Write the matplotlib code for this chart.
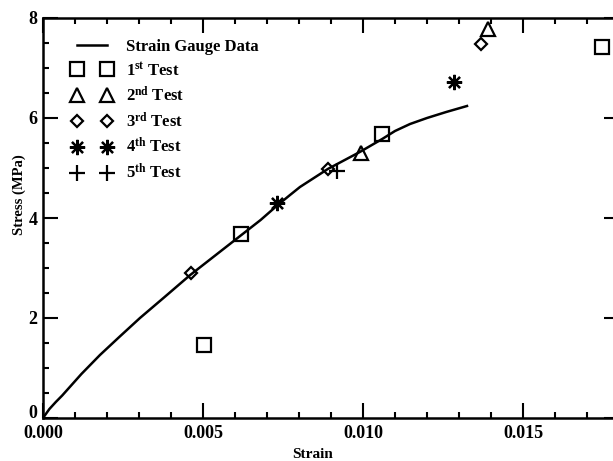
import matplotlib
matplotlib.use("Agg")
import matplotlib.pyplot as plt
from matplotlib.ticker import MultipleLocator

plt.rcParams['font.family'] = ['Liberation Serif', 'DejaVu Serif']
plt.rcParams['font.weight'] = 'bold'
plt.rcParams['mathtext.fontset'] = 'custom'
plt.rcParams['mathtext.rm'] = 'Liberation Serif:bold'
plt.rcParams['mathtext.it'] = 'Liberation Serif:bold'
plt.rcParams['mathtext.bf'] = 'Liberation Serif:bold'

# Strain gauge curve
gauge_strain = [0.0, 0.0002, 0.0004, 0.0006, 0.0012, 0.00178, 0.0024, 0.00303, 0.0038,
                0.0046, 0.0054, 0.0062, 0.0068, 0.0073, 0.0077, 0.00803, 0.0089, 0.0099,
                0.0106, 0.0110, 0.01147, 0.0120, 0.0126, 0.01325]
gauge_stress = [0.0, 0.18, 0.32, 0.45, 0.88, 1.26, 1.63, 2.0, 2.42,
                2.86, 3.26, 3.66, 3.96, 4.24, 4.45, 4.62, 4.98, 5.32,
                5.58, 5.74, 5.88, 6.0, 6.12, 6.24]

test1_strain = [0.00503, 0.0062, 0.0106, 0.01747]
test1_stress = [1.47, 3.68, 5.68, 7.42]
test2_strain = [0.00994, 0.0139]
test2_stress = [5.31, 7.78]
test3_strain = [0.00462, 0.0089, 0.01369]
test3_stress = [2.9, 4.97, 7.48]
test4_strain = [0.0073, 0.01284]
test4_stress = [4.3, 6.72]
test5_strain = [0.0092]
test5_stress = [4.94]

fig = plt.figure(figsize=(6.13, 4.61), dpi=100)
ax = fig.add_axes([43/613, 1-418/461, (619-43)/613, 400/461])

ax.plot(gauge_strain, gauge_stress, color='black', lw=1.8, label='Strain Gauge Data')
mk = dict(color='black', linestyle='none', markerfacecolor='none', markeredgewidth=1.6)
ax.plot(test1_strain, test1_stress, marker='s', markersize=10, label=r'1$^{\mathrm{st}}$ Test', **mk)
ax.plot(test2_strain, test2_stress, marker='^', markersize=10, label=r'2$^{\mathrm{nd}}$ Test', **mk)
ax.plot(test3_strain, test3_stress, marker='D', markersize=6.5, label=r'3$^{\mathrm{rd}}$ Test', **mk)
ax.plot(test4_strain, test4_stress, marker=(8, 2, 0), markersize=11, label=r'4$^{\mathrm{th}}$ Test', **mk)
ax.plot(test5_strain, test5_stress, marker='+', markersize=11, label=r'5$^{\mathrm{th}}$ Test', **mk)

ax.set_xlim(0, 0.018)
ax.set_ylim(0, 8)
ax.xaxis.set_major_locator(MultipleLocator(0.005))
ax.xaxis.set_minor_locator(MultipleLocator(0.001))
ax.yaxis.set_major_locator(MultipleLocator(2))
ax.yaxis.set_minor_locator(MultipleLocator(0.5))
ax.xaxis.set_major_formatter(plt.FuncFormatter(lambda v, p: f"{v:.3f}"))
ax.yaxis.set_major_formatter(plt.FuncFormatter(lambda v, p: f"{v:.0f}"))
ax.tick_params(which='both', direction='in', top=True, right=True, width=1.5, labelsize=13)
ax.tick_params(axis='x', pad=5)
ax.tick_params(axis='y', pad=4)
ax.tick_params(which='major', length=11)
ax.tick_params(which='minor', length=4)
for s in ax.spines.values():
    s.set_linewidth(1.8)

fig.canvas.draw()
for lab in ax.get_xticklabels() + ax.get_yticklabels():
    lab.set_fontweight('bold')
# lift the y "0" label slightly, as in the reference
for tick, loc in zip(ax.yaxis.get_major_ticks(), ax.yaxis.get_majorticklocs()):
    if abs(loc) < 1e-9:
        tick.label1.set_verticalalignment('baseline')

ax.set_xlabel('Strain', fontsize=11, fontweight='bold')
ax.set_ylabel('Stress (MPa)', fontsize=10.5, fontweight='bold')
ax.xaxis.set_label_coords((313-43)/576, -(448-418)/400)
ax.yaxis.set_label_coords((26-43)/576, (418-195)/400)

leg = ax.legend(loc='upper left', numpoints=2, frameon=False, fontsize=12,
                handlelength=2.4, handletextpad=0.8, labelspacing=0.4,
                borderaxespad=0.5, bbox_to_anchor=(0.025, 0.985))
for t in leg.get_texts():
    t.set_fontweight('bold')

fig.savefig('out.png', dpi=100)
